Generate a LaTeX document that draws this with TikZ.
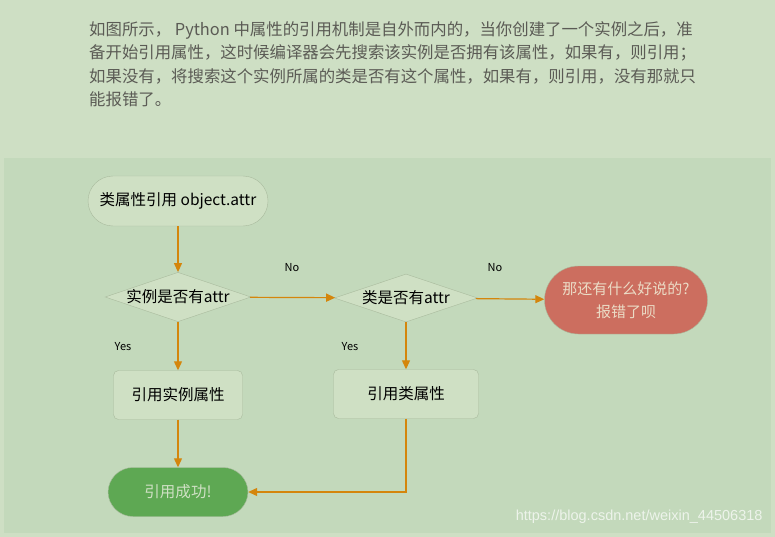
\documentclass[tikz,border=0pt]{standalone}
\usepackage{fontspec}
\setmainfont{Noto Sans CJK SC}
\newfontfamily\wmfont{Liberation Sans}
\usetikzlibrary{arrows.meta,positioning,shapes.geometric}
\definecolor{pagebg}{HTML}{CEDFC4}
\definecolor{panelbg}{HTML}{C3D9BB}
\definecolor{boxfill}{HTML}{CFE0C4}
\definecolor{boxline}{HTML}{A9BA9D}
\definecolor{flowline}{HTML}{D4860C}
\definecolor{failred}{HTML}{CC6E5F}
\definecolor{failtext}{HTML}{EBDCC6}
\definecolor{okgreen}{HTML}{5EA853}
\definecolor{paratext}{HTML}{5B5B55}
\tikzset{
  startbox/.style={draw=boxline,fill=boxfill,rounded corners=25pt,minimum width=180pt,minimum height=50pt,font=\fontsize{15.5}{18}\selectfont},
  askbox/.style={draw=boxline,fill=boxfill,diamond,aspect=2.95,inner sep=0pt,minimum width=143pt,minimum height=48pt,font=\fontsize{15.5}{18}\selectfont},
  usebox/.style={draw=boxline,fill=boxfill,rounded corners=5pt,minimum height=49pt,font=\fontsize{15.5}{18}\selectfont},
  endbox/.style={draw=boxline,rounded corners=25pt,minimum height=49pt,font=\fontsize{15.5}{18}\selectfont},
  arr/.style={-{Triangle[length=9pt,width=8pt]},line width=1.2pt,draw=flowline},
  ans/.style={font=\fontsize{11}{13}\selectfont}
}

\begin{document}
\begin{tikzpicture}[x=1pt,y=-1pt]
\useasboundingbox (0,0) rectangle (775,537);
\fill[pagebg] (0,0) rectangle (775,537);
\fill[panelbg] (4,158) rectangle (771,533);
\node[anchor=north west,align=left,text=paratext,inner sep=0pt,font=\fontsize{16.4}{23.5}\selectfont] (para) at (89,21)
  {如图所示，\ Python 中属性的引用机制是自外而内的，当你创建了一个实例之后，准\\
   备开始引用属性，这时候编译器会先搜索该实例是否拥有该属性，如果有，则引用；\\
   如果没有，将搜索这个实例所属的类是否有这个属性，如果有，则引用，没有那就只\\
   能报错了。};
% flow chart
\node[startbox] (attr) at (178,201) {类属性引用 object.attr};
\node[askbox] (inst) at (178,297) {实例是否有attr};
\node[askbox] (cls) at (406,298) {类是否有attr};
\node[endbox,fill=failred,text=failtext,minimum width=163pt,minimum height=68pt,rounded corners=34pt,align=center,font=\fontsize{15}{23}\selectfont] (fail) at (626,300) {那还有什么好说的?\\报错了呗};
\node[usebox,minimum width=129pt] (useinst) at (178,395) {引用实例属性};
\node[usebox,minimum width=145pt] (usecls) at (406,394) {引用类属性};
\node[endbox,fill=okgreen,text=boxfill,minimum width=140pt] (ok) at (178,492) {引用成功!};
\draw[arr] (attr) -- (inst);
\draw[arr] (inst) -- (cls);
\draw[arr] (cls) -- (fail);
\draw[arr] (inst) -- (useinst);
\draw[arr] (cls) -- (usecls);
\draw[arr] (useinst) -- (ok);
\draw[arr] (usecls) |- (ok);
\node[ans] at (292,268) {No};
\node[ans] at (495,268) {No};
\node[ans] at (123,347) {Yes};
\node[ans] at (350,347) {Yes};
\node[anchor=east,text=white,opacity=0.7,font=\wmfont\fontsize{14.5}{16}\selectfont] (mark) at (766,517) {https://blog.csdn.net/weixin\_44506318};
\end{tikzpicture}
\end{document}
